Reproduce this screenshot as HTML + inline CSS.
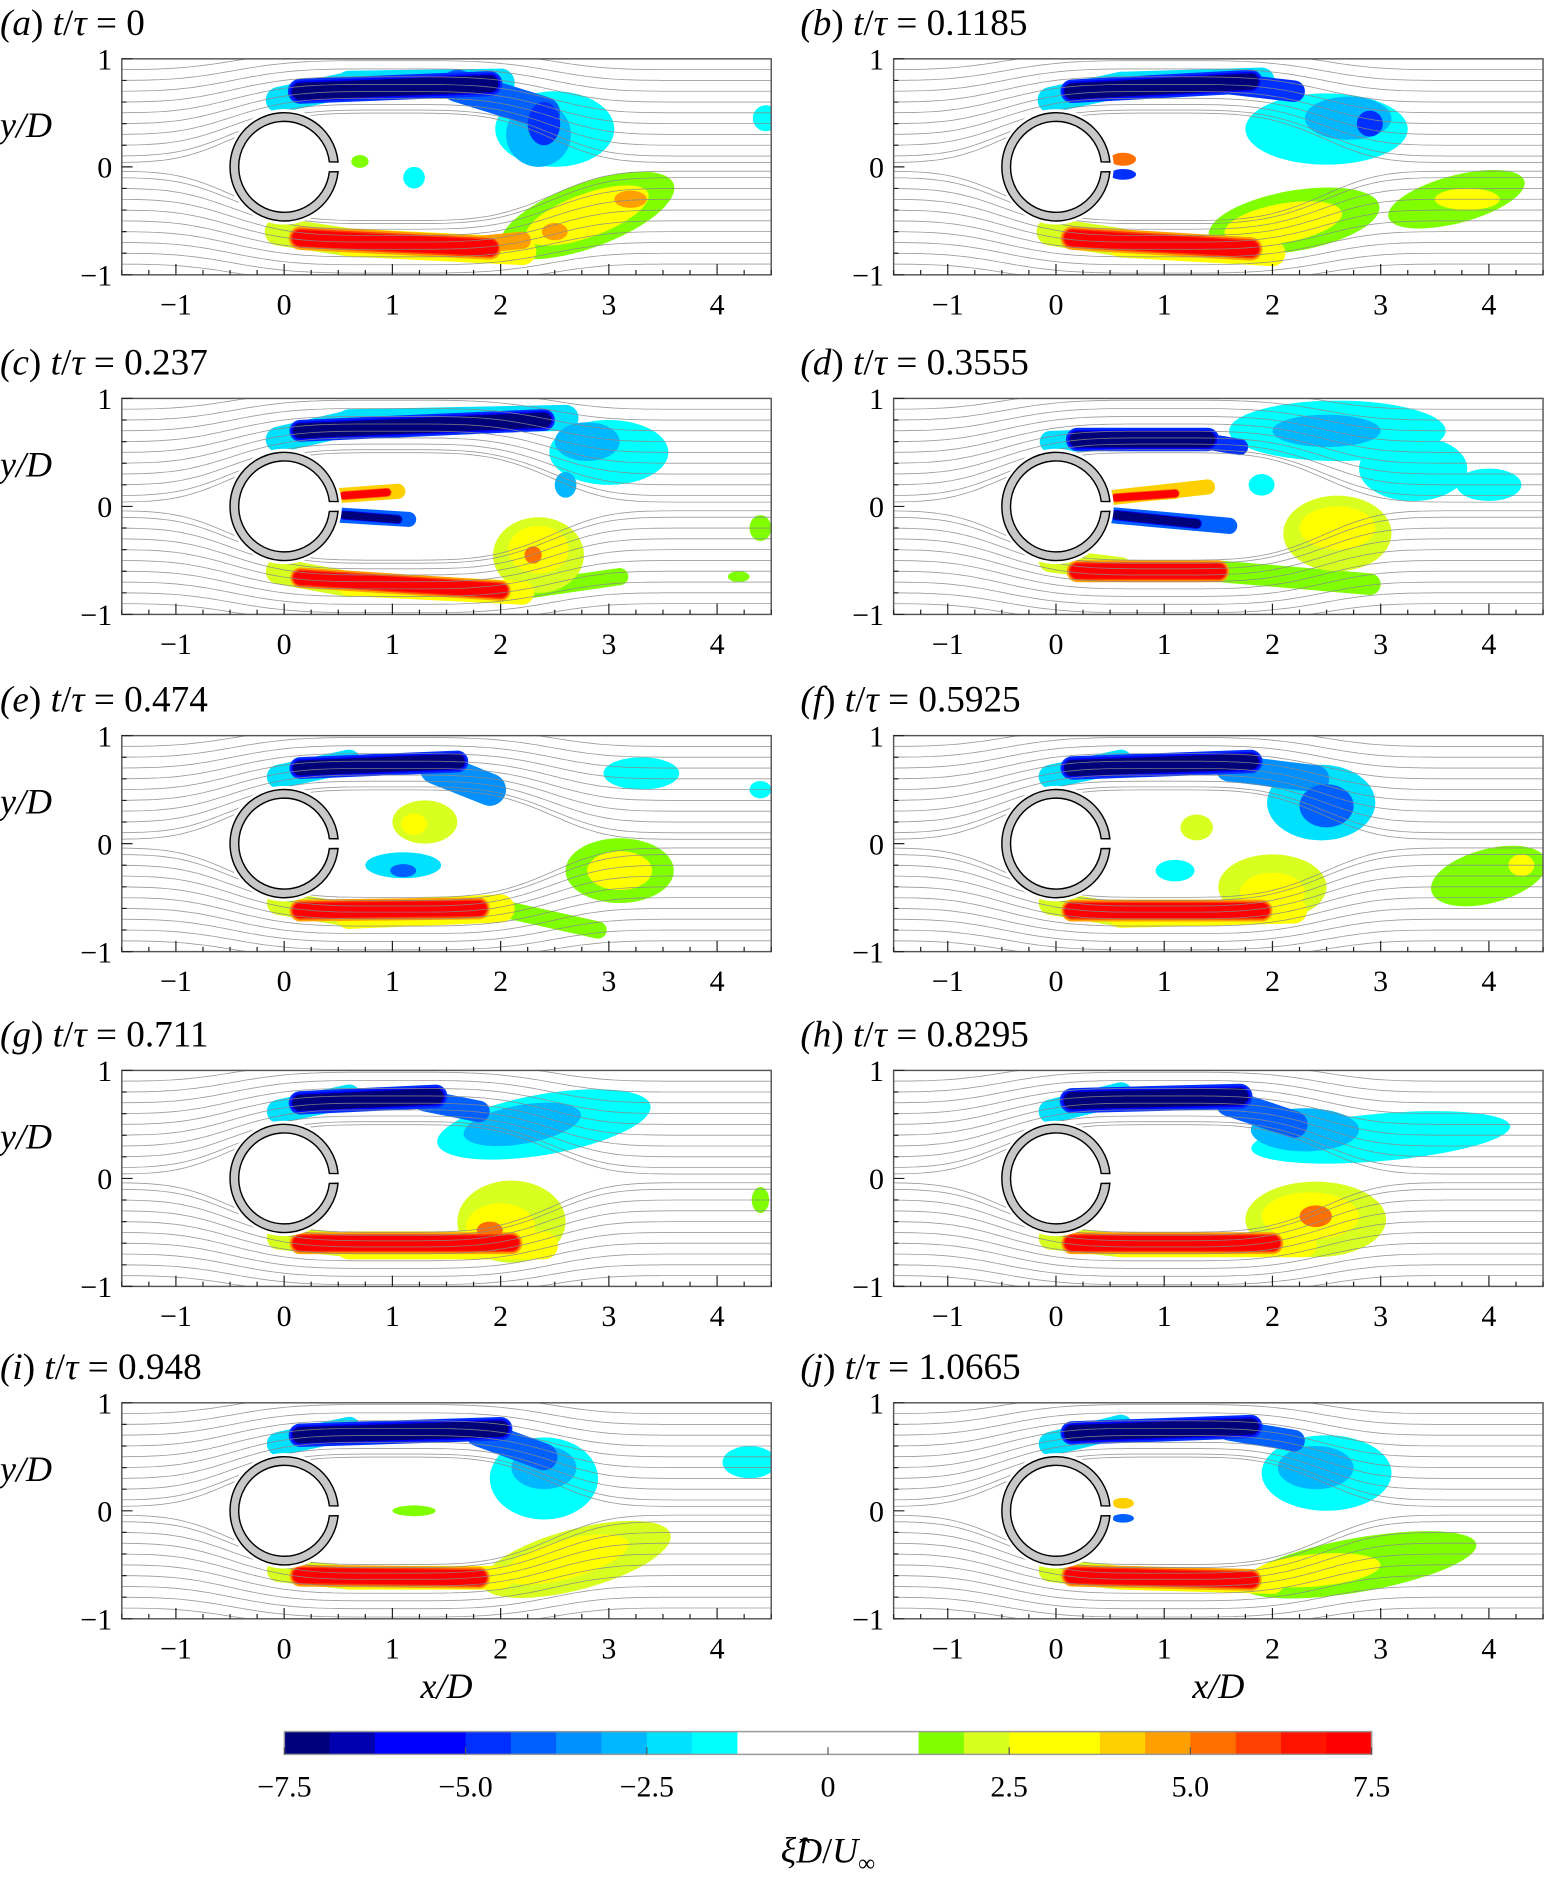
<!DOCTYPE html>
<html><head><meta charset="utf-8"><style>
html,body{margin:0;padding:0;background:#fff}
svg{display:block}
text{font-family:"Liberation Serif",serif;fill:#000}
</style></head><body>
<svg id="fig" width="1547" height="1882" viewBox="0 0 1289.2 1568.3" xmlns="http://www.w3.org/2000/svg">
<defs></defs>
</svg>
<script>
// ---- data ----
const panelLetters = ['a','b','c','d','e','f','g','h','i','j'];
const panelTimes = ['0','0.1185','0.237','0.3555','0.474','0.5925','0.711','0.8295','0.948','1.0665'];
const xTicks = [-1,0,1,2,3,4];
const yTicks = [-1,0,1];
const cbarTicks = [-7.5,-5.0,-2.5,0,2.5,5.0,7.5];
const cbarTickLabels = ['\u22127.5','\u22125.0','\u22122.5','0','2.5','5.0','7.5'];
const cbarColors = ['#00007a','#0000b0','#0000ff','#0000ff','#0030ff','#0060ff','#0090ff','#00b8ff','#00e0ff','#00ffff',
 '#ffffff','#ffffff','#ffffff','#ffffff',
 '#80ff00','#d8ff20','#ffff00','#ffff00','#ffd000','#ffa000','#ff7000','#ff4000','#ff1400','#ff0000'];
// strokes: [x0,y0,x1,y1,width,value]; blobs: [x,y,rx,ry,value,rotDeg]
const strokesA = [[-0.05,0.62,0.6,0.76,0.24,-2],[0.6,0.76,2.0,0.78,0.26,-2.5],[0.15,0.7,1.9,0.77,0.16,-7.5],[1.6,0.75,2.4,0.5,0.3,-4],
 [-0.05,-0.6,0.6,-0.7,0.26,2],[0.6,-0.7,2.2,-0.78,0.26,2.5],[0.15,-0.66,1.9,-0.75,0.15,7.5],[1.8,-0.72,2.2,-0.68,0.16,4.5]];
const blobsA = [[2.5,0.35,0.55,0.35,-1.5,0],[2.35,0.3,0.3,0.3,-3,0],[2.4,0.4,0.15,0.2,-5,0],[4.45,0.45,0.12,0.12,-1.5,0],[1.2,-0.1,0.1,0.1,-1.5,0],[0.7,0.05,0.08,0.06,1.5,0],
 [2.8,-0.45,0.85,0.3,1.5,-20],[2.8,-0.45,0.6,0.2,3,-20],[3.2,-0.3,0.15,0.08,4.5,0],[2.5,-0.6,0.12,0.08,4.5,0]];
const strokesB = [[-0.05,0.62,0.6,0.76,0.24,-2],[0.6,0.76,1.9,0.8,0.24,-2.5],[0.15,0.7,1.8,0.79,0.15,-7.5],[1.6,0.77,2.2,0.7,0.2,-4.5],
 [-0.05,-0.6,0.6,-0.7,0.26,2],[0.6,-0.72,2.0,-0.8,0.24,2.5],[0.15,-0.66,1.8,-0.76,0.15,7.5]];
const blobsB = [[2.5,0.35,0.75,0.33,-1.5,0],[2.7,0.45,0.4,0.2,-3,0],[2.9,0.4,0.12,0.12,-4.5,0],[0.62,0.07,0.12,0.06,5,0],[0.62,-0.07,0.12,0.05,-5,0],
 [2.2,-0.5,0.8,0.28,1.5,-10],[2.1,-0.52,0.55,0.18,3,-10],[3.7,-0.3,0.65,0.22,1.5,-15],[3.8,-0.3,0.3,0.1,2.5,0]];
const strokesC = [[-0.05,0.62,0.6,0.77,0.24,-2],[0.6,0.78,2.6,0.82,0.24,-2.5],[0.15,0.7,2.4,0.8,0.14,-7.5],
 [0.5,0.1,1.05,0.14,0.14,4],[0.55,0.1,0.95,0.13,0.07,7],[0.5,-0.08,1.15,-0.12,0.14,-4],[0.55,-0.08,1.05,-0.12,0.07,-7],
 [-0.05,-0.6,0.6,-0.72,0.24,2],[0.6,-0.72,2.2,-0.8,0.22,2.5],[0.15,-0.66,2.0,-0.78,0.13,7.5],[2.2,-0.78,3.1,-0.65,0.16,1.5]];
const blobsC = [[3.0,0.5,0.55,0.3,-1.5,0],[2.8,0.6,0.3,0.18,-3,0],[2.6,0.2,0.1,0.12,-3,0],
 [2.35,-0.45,0.42,0.35,2,0],[2.35,-0.4,0.28,0.22,3,0],[2.3,-0.45,0.08,0.08,5,0],[4.4,-0.2,0.1,0.12,1.5,0],[4.2,-0.65,0.1,0.05,1.5,0]];
const strokesD = [[-0.05,0.6,0.6,0.62,0.2,-2],[0.2,0.62,1.4,0.62,0.15,-7.5],[1.4,0.6,1.7,0.55,0.15,-4.5],
 [0.5,0.08,1.4,0.18,0.14,4],[0.55,0.08,1.1,0.12,0.07,7],[0.5,-0.08,1.6,-0.18,0.15,-4],[0.55,-0.08,1.3,-0.16,0.08,-7],
 [-0.05,-0.5,0.6,-0.58,0.22,2],[0.2,-0.6,1.5,-0.6,0.14,7.5],[1.5,-0.6,2.9,-0.72,0.2,1.5]];
const blobsD = [[2.6,0.7,1.0,0.28,-1.5,0],[3.3,0.35,0.5,0.3,-1.5,0],[2.5,0.7,0.5,0.15,-3,0],[4.0,0.2,0.3,0.15,-1.5,0],[1.9,0.2,0.12,0.1,-1.5,0],
 [2.6,-0.25,0.5,0.35,2,0],[2.6,-0.2,0.35,0.2,3,0]];
const strokesE = [[-0.05,0.62,0.6,0.76,0.22,-2],[0.15,0.7,1.6,0.76,0.14,-7.5],[1.4,0.7,1.9,0.5,0.3,-3.5],
 [-0.05,-0.55,0.6,-0.66,0.22,2],[0.6,-0.66,2.0,-0.6,0.26,2.5],[0.15,-0.62,1.8,-0.6,0.14,7.5],[2.0,-0.6,2.9,-0.8,0.16,1.5]];
const blobsE = [[1.3,0.2,0.3,0.2,2,0],[1.2,0.18,0.12,0.1,3,0],[1.1,-0.2,0.35,0.12,-2,0],[1.1,-0.25,0.12,0.06,-4,0],[3.3,0.65,0.35,0.15,-1.5,0],[4.4,0.5,0.1,0.08,-1.5,0],
 [3.1,-0.25,0.5,0.3,1.5,0],[3.1,-0.25,0.3,0.18,3,0]];
const strokesF = [[-0.05,0.62,0.6,0.76,0.22,-2],[0.15,0.7,1.8,0.76,0.15,-7.5],[1.6,0.7,2.4,0.6,0.25,-3.5],
 [-0.05,-0.55,0.6,-0.66,0.22,2],[0.6,-0.66,2.2,-0.62,0.24,2.5],[0.15,-0.62,1.9,-0.62,0.14,7.5]];
const blobsF = [[2.45,0.38,0.5,0.35,-2,0],[2.5,0.35,0.25,0.2,-4,0],[1.3,0.15,0.15,0.12,2,0],[1.1,-0.25,0.18,0.1,-1.5,0],[4.0,-0.3,0.55,0.25,1.5,-15],[4.3,-0.2,0.12,0.1,2.5,0],
 [2.0,-0.4,0.5,0.3,2,0],[2.0,-0.45,0.3,0.18,3.5,0]];
const strokesG = [[-0.05,0.62,0.6,0.76,0.22,-2],[0.15,0.7,1.4,0.76,0.15,-7.5],[1.3,0.72,1.8,0.62,0.2,-4],
 [-0.05,-0.55,0.6,-0.62,0.22,2],[0.6,-0.62,2.4,-0.62,0.26,2.5],[0.15,-0.6,2.1,-0.6,0.14,7.5]];
const blobsG = [[2.4,0.5,1.0,0.28,-1.5,-10],[2.2,0.5,0.55,0.18,-3,-10],[4.4,-0.2,0.08,0.12,1.5,0],
 [2.1,-0.4,0.5,0.38,2,0],[2.0,-0.45,0.32,0.22,3.5,0],[1.9,-0.48,0.12,0.08,5,0]];
const strokesH = [[-0.05,0.62,0.6,0.78,0.22,-2],[0.15,0.72,1.7,0.76,0.16,-7.5],[1.6,0.7,2.2,0.5,0.25,-4],
 [-0.05,-0.55,0.6,-0.62,0.22,2],[0.6,-0.62,2.3,-0.62,0.22,2.5],[0.15,-0.6,2.0,-0.6,0.14,7.5]];
const blobsH = [[3.0,0.38,1.2,0.22,-1.5,-5],[2.3,0.45,0.5,0.2,-3,0],
 [2.4,-0.38,0.65,0.35,2,0],[2.35,-0.35,0.45,0.22,3.5,0],[2.4,-0.35,0.15,0.1,5,0]];
const strokesI = [[-0.05,0.62,0.6,0.76,0.22,-2],[0.15,0.7,2.0,0.76,0.15,-7.5],[1.8,0.72,2.4,0.5,0.25,-4],
 [-0.05,-0.55,0.6,-0.62,0.22,2],[0.6,-0.62,2.0,-0.62,0.22,2.5],[0.15,-0.6,1.8,-0.62,0.14,7.5]];
const blobsI = [[2.4,0.3,0.5,0.38,-1.5,0],[2.4,0.4,0.3,0.2,-3,0],[4.3,0.45,0.25,0.15,-1.5,0],[1.2,0.0,0.2,0.05,1.5,0],
 [2.7,-0.45,0.9,0.28,2,-15],[2.6,-0.45,0.6,0.18,3,-15]];
const strokesJ = [[-0.05,0.62,0.6,0.78,0.22,-2],[0.15,0.72,1.8,0.78,0.15,-7.5],[1.6,0.75,2.2,0.65,0.2,-4],
 [-0.05,-0.55,0.6,-0.62,0.22,2],[0.6,-0.62,2.0,-0.66,0.22,2.5],[0.15,-0.6,1.8,-0.64,0.14,7.5]];
const blobsJ = [[2.5,0.35,0.6,0.35,-1.5,0],[2.4,0.4,0.35,0.2,-3,0],[0.62,0.07,0.1,0.05,4,0],[0.62,-0.07,0.1,0.04,-4,0],
 [2.8,-0.5,1.1,0.25,1.5,-10],[2.4,-0.55,0.6,0.15,3,-5]];
const strokeSets = [strokesA,strokesB,strokesC,strokesD,strokesE,strokesF,strokesG,strokesH,strokesI,strokesJ];
const blobSets = [blobsA,blobsB,blobsC,blobsD,blobsE,blobsF,blobsG,blobsH,blobsI,blobsJ];
const streamStarts = [-1.6,-1.5,-1.4,-1.3,-1.2,-1.1,-1.0,-0.9,-0.8,-0.7,-0.6,-0.5,-0.4,-0.3,-0.2,-0.1,-0.04,0.04,0.1,0.2,0.3,0.4,0.5,0.6,0.7,0.8,0.9,1.0,1.1,1.2,1.3,1.4,1.5,1.6];

// ---- layout ----
const NS='http://www.w3.org/2000/svg';
const svg=document.getElementById('fig');
const U=90.2, UY=90;
const colX0=[101.5,744.7];
const rowCY=[139,422,703,982,1259];
function mk(tag,attrs,parent){const e=document.createElementNS(NS,tag);for(const k in attrs)e.setAttribute(k,attrs[k]);(parent||svg).appendChild(e);return e;}
function colorOf(v){let i=Math.floor((v+7.5)/0.625);if(i<0)i=0;if(i>23)i=23;return cbarColors[i];}

for(let p=0;p<10;p++){
  const col=p%2,row=Math.floor(p/2);
  const x0=colX0[col],cy=rowCY[row];
  const sx=x=>x0+(x+1.5)*U, sy=y=>cy-y*UY;
  const g=mk('g',{});
  
  
  const clipId='clip'+p;
  const cp=mk('clipPath',{id:clipId},svg.querySelector('defs'));
  mk('rect',{x:sx(-1.5),y:sy(1),width:6*U,height:2*UY},cp);
  const plot=mk('g',{'clip-path':'url(#'+clipId+')'},g);
  // vorticity marks sorted by magnitude (with halos for strong layers)
  const marks=[];
  strokeSets[p].forEach(s=>{
    marks.push({t:'s',d:s,w:s[4],v:s[5],m:Math.abs(s[5])});
    if(Math.abs(s[5])>=5){
      marks.push({t:'s',d:s,w:s[4]*1.45,v:s[5]*0.62,m:Math.abs(s[5])*0.62});
      marks.push({t:'s',d:s,w:s[4]*1.2,v:s[5]*0.8,m:Math.abs(s[5])*0.8});
    }
  });
  blobSets[p].forEach(b=>marks.push({t:'b',d:b,m:Math.abs(b[4])}));
  marks.sort((a,b)=>a.m-b.m);
  const vg=mk('g',{},plot);
  
  
  marks.forEach(mm=>{
    if(mm.t==='s'){
      const s=mm.d;
      const l=mk('line',{x1:sx(s[0]),y1:sy(s[1]),x2:sx(s[2]),y2:sy(s[3]),stroke:colorOf(mm.v),'stroke-width':mm.w*UY,'stroke-linecap':'round'},vg);
      
      
    } else {
      const b=mm.d;
      const e=mk('ellipse',{cx:sx(b[0]),cy:sy(b[1]),rx:b[2]*U,ry:b[3]*UY,fill:colorOf(b[4]),transform:'rotate('+b[5]+' '+sx(b[0])+' '+sy(b[1])+')'},vg);
      
      
    }
  });
  // streamlines on top, thin gray
  const sl=mk('g',{fill:'none',stroke:'#8a8a8a','stroke-width':0.7,'stroke-opacity':0.85},plot);
  
  
  streamStarts.forEach(y0=>{
    let d='';
    for(let k=0;k<=120;k++){
      const x=-1.5+k*0.05;
      const A=0.8*Math.exp(-Math.pow((x-1.0)/1.6,4));
      const y=y0+Math.sign(y0)*A*0.6*Math.exp(-Math.abs(y0)*1.2);
      d+=(k?'L':'M')+sx(x).toFixed(1)+' '+sy(y).toFixed(1);
    }
    const pth=mk('path',{d:d},sl);
    
    
  });
  // cylinder (C-ring with slit on right)
  const R=0.5*U,r=0.42*U,cx=sx(0),cyy=sy(0),a=0.09,b2=0.11;
  const d='M'+(cx+R*Math.cos(a))+' '+(cyy-R*Math.sin(a))+' A'+R+' '+R+' 0 1 0 '+(cx+R*Math.cos(a))+' '+(cyy+R*Math.sin(a))+
    ' L'+(cx+r*Math.cos(b2))+' '+(cyy+r*Math.sin(b2))+' A'+r+' '+r+' 0 1 1 '+(cx+r*Math.cos(b2))+' '+(cyy-r*Math.sin(b2))+' Z';
  mk('circle',{cx:cx,cy:cyy,r:R+3,fill:'#fff'},plot);
  const cyl=mk('path',{d:d,fill:'#c8c8c8',stroke:'#000','stroke-width':1.2},plot);
  
  
  // frame
  const fr=mk('rect',{x:sx(-1.5),y:sy(1),width:6*U,height:2*UY,fill:'none',stroke:'#555','stroke-width':1.2},g);
  
  
  // ticks
  let td='';
  for(let k=0;k<=24;k++){const x=-1.5+k*0.25;const maj=Math.abs(x-Math.round(x))<1e-6;td+='M'+sx(x)+' '+sy(-1)+'v'+(maj?-9:-4);}
  for(let k=0;k<=10;k++){const y=-1+k*0.2;const maj=Math.abs(y-Math.round(y))<1e-6;td+='M'+sx(-1.5)+' '+sy(y)+'h'+(maj?9:4);}
  const tk=mk('path',{d:td,stroke:'#222','stroke-width':1,fill:'none'},g);
  
  
  xTicks.forEach(v=>{
    const t=mk('text',{x:sx(v),y:sy(-1)+33,'font-size':25,'text-anchor':'middle'},g);
    t.textContent=v<0?'\u2212'+(-v):String(v);
    
    
  });
  yTicks.forEach(v=>{
    const t=mk('text',{x:sx(-1.5)-8,y:sy(v)+9,'font-size':25,'text-anchor':'end'},g);
    t.textContent=v<0?'\u2212'+(-v):String(v);
    
    
  });
  // title
  const tt=mk('text',{x:col?667:0,y:cy-110,'font-size':31},g);
  tt.innerHTML='<tspan font-style="italic">(</tspan><tspan font-style="italic">'+panelLetters[p]+'</tspan>)  <tspan font-style="italic">t</tspan>/<tspan font-style="italic">\u03c4</tspan> = '+panelTimes[p];
  
  
  if(col===0){
    const yl=mk('text',{x:0,y:cy-25,'font-size':30,'font-style':'italic'},g);
    yl.textContent='y/D';
    
    
  }
  if(row===4){
    const xl=mk('text',{x:sx(1.5),y:1415,'font-size':30,'font-style':'italic','text-anchor':'middle'},g);
    xl.textContent='x/D';
    
    
  }
}
// colorbar
const cb=mk('g',{});


const cbX0=237,cbX1=1143,cbY=1443,cbH=19,segW=(cbX1-cbX0)/cbarColors.length;
cbarColors.forEach((c,i)=>{
  const r=mk('rect',{x:cbX0+i*segW,y:cbY,width:segW+0.5,height:cbH,fill:c},cb);
  
  
});
mk('rect',{x:cbX0,y:cbY,width:cbX1-cbX0,height:cbH,fill:'none',stroke:'#999','stroke-width':1.2},cb);
const cbx=v=>cbX0+(v+7.5)/15*(cbX1-cbX0);
cbarTicks.forEach((v,i)=>{
  mk('line',{x1:cbx(v),x2:cbx(v),y1:cbY+cbH,y2:cbY+cbH-6,stroke:'#555','stroke-width':1},cb);
  const t=mk('text',{x:cbx(v),y:1497,'font-size':25,'text-anchor':'middle'},cb);
  t.textContent=cbarTickLabels[i];
  
  
});
const ct=mk('text',{x:690,y:1552,'font-size':30,'text-anchor':'middle'},cb);
ct.innerHTML='<tspan font-style="italic">\u03be\u0302D</tspan>/<tspan font-style="italic">U</tspan><tspan font-size="20" dy="7">\u221e</tspan>';


</script>
</body></html>
